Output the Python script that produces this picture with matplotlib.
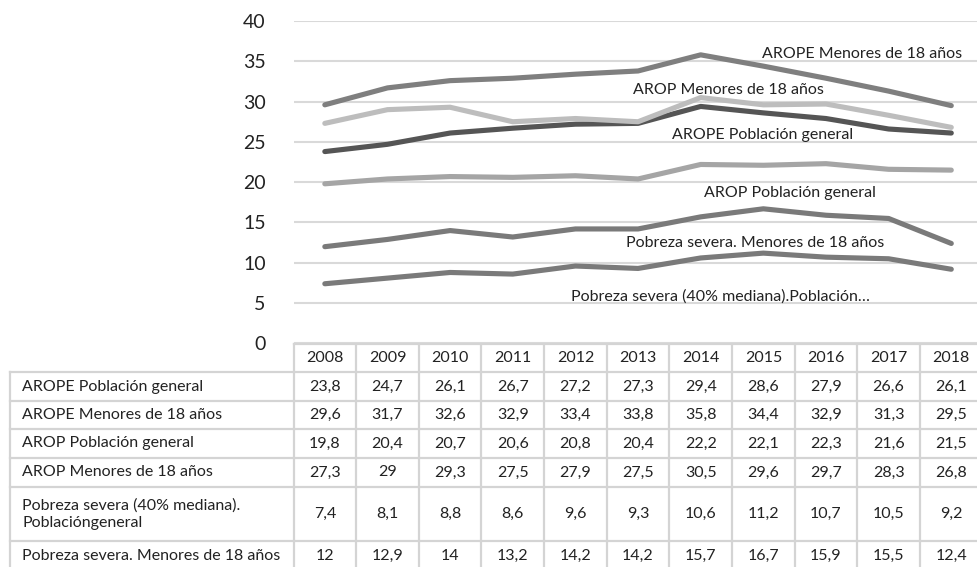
import matplotlib.pyplot as plt
import matplotlib.transforms as mtransforms

plt.rcParams['font.family'] = ['Lato', 'DejaVu Sans']

years = [2008, 2009, 2010, 2011, 2012, 2013, 2014, 2015, 2016, 2017, 2018]

arope_gen = [23.8, 24.7, 26.1, 26.7, 27.2, 27.3, 29.4, 28.6, 27.9, 26.6, 26.1]
arope_men = [29.6, 31.7, 32.6, 32.9, 33.4, 33.8, 35.8, 34.4, 32.9, 31.3, 29.5]
arop_gen = [19.8, 20.4, 20.7, 20.6, 20.8, 20.4, 22.2, 22.1, 22.3, 21.6, 21.5]
arop_men = [27.3, 29, 29.3, 27.5, 27.9, 27.5, 30.5, 29.6, 29.7, 28.3, 26.8]
sev_gen = [7.4, 8.1, 8.8, 8.6, 9.6, 9.3, 10.6, 11.2, 10.7, 10.5, 9.2]
sev_men = [12, 12.9, 14, 13.2, 14.2, 14.2, 15.7, 16.7, 15.9, 15.5, 12.4]

row_labels = ['AROPE Población general', 'AROPE Menores de 18 años',
              'AROP Población general', 'AROP Menores de 18 años',
              'Pobreza severa (40% mediana).\nPoblacióngeneral',
              'Pobreza severa. Menores de 18 años']
series = [arope_gen, arope_men, arop_gen, arop_men, sev_gen, sev_men]
colors = ['#555555', '#7f7f7f', '#a5a5a5', '#bdbdbd', '#7a7a7a', '#7a7a7a']

# labels drawn on the chart (text, x, y)
line_labels = [
    ('AROPE Menores de 18 años', 2016.57, 35.9),
    ('AROP Menores de 18 años', 2014.45, 31.5),
    ('AROPE Población general', 2014.99, 25.85),
    ('AROP Población general', 2015.43, 18.7),
    ('Pobreza severa. Menores de 18 años', 2014.87, 12.5),
    ('Pobreza severa (40% mediana).Población…', 2014.32, 5.8),
]

W, H = 977, 567
fig = plt.figure(figsize=(W / 100, H / 100), dpi=100)

# main plot area (pixels): x 293.5 -> 982.6, y 21 -> 343.4
left, right, top, bottom = 293.5, 982.6, 21.0, 343.4
ax = fig.add_axes([left / W, 1 - bottom / H, (right - left) / W, (bottom - top) / H])

for vals, c in zip(series, colors):
    ax.plot(years, vals, color=c, lw=3.7, solid_capstyle='round', solid_joinstyle='round')

for txt, x, y in line_labels:
    ax.text(x, y, txt, ha='center', va='center', fontsize=11.5, color='#222222')

ax.set_xlim(2007.5, 2018.5)
ax.set_ylim(0, 40)
ax.set_yticks(range(0, 41, 5))
ax.set_xticks([])
ax.grid(axis='y', color='#d9d9d9', lw=1.5)
ax.set_axisbelow(True)
for s in ax.spines.values():
    s.set_visible(False)
ax.tick_params(axis='y', length=0, pad=20, labelsize=14, labelcolor='#222222')

# data table under the chart, in pixel coords
tab = fig.add_axes([0, 0, 1, 1], zorder=-1)
tab.set_xlim(0, W)
tab.set_ylim(H, 0)
tab.axis('off')
tr = mtransforms.blended_transform_factory(ax.transData, tab.transData)

row_edges = [344, 372, 401, 429, 458, 487, 541, 571]
grid_c = '#d4d4d4'
lab_left = 10
fs = 11.5

# horizontal borders
tab.plot([left, W + 10], [row_edges[0]] * 2, color=grid_c, lw=1.6)
for yb in row_edges[1:]:
    tab.plot([lab_left, W + 10], [yb, yb], color=grid_c, lw=1.6)
# vertical borders
tab.plot([lab_left, lab_left], [row_edges[1], row_edges[-1]], color=grid_c, lw=1.6)
for i in range(len(years) + 1):
    tab.plot([years[0] - 0.5 + i] * 2, [row_edges[0], row_edges[-1]], color=grid_c, lw=1.6,
             transform=tr)

# header
ymid = (row_edges[0] + row_edges[1]) / 2
for yr in years:
    tab.text(yr, ymid, str(yr), transform=tr, ha='center', va='center',
             fontsize=fs, color='#222222')

# body
for r, (lab, vals) in enumerate(zip(row_labels, series)):
    ymid = (row_edges[r + 1] + row_edges[r + 2]) / 2
    tab.text(22, ymid, lab, ha='left', va='center', fontsize=fs,
             color='#222222', linespacing=1.35)
    for yr, v in zip(years, vals):
        s = ('%g' % v).replace('.', ',')
        tab.text(yr, ymid, s, transform=tr, ha='center', va='center',
                 fontsize=fs, color='#222222')

fig.savefig('out.png', dpi=100)
